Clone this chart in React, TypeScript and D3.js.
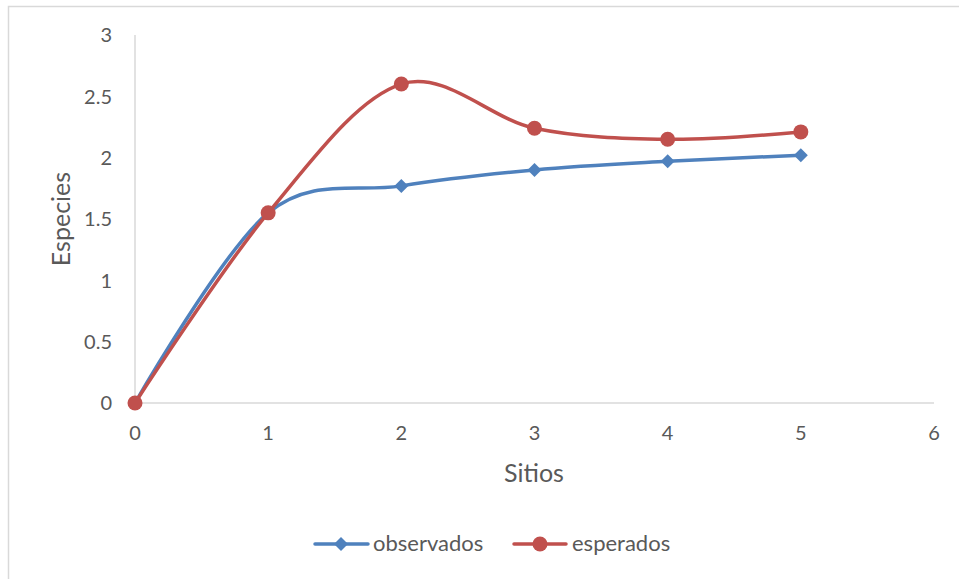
import React from "react";
import * as d3 from "d3";

// Sampling sites and cumulative species counts
const sitios = [0, 1, 2, 3, 4, 5];
const observados = [0, 1.55, 1.77, 1.9, 1.97, 2.02];
const esperados = [0, 1.55, 2.6, 2.24, 2.15, 2.21];
const xTicks = [0, 1, 2, 3, 4, 5, 6];
const yTicks = [0, 0.5, 1, 1.5, 2, 2.5, 3];

const W = 959;
const H = 579;
const FONT = "Lato, 'Open Sans', sans-serif";
const TXT = "#595959";
const BLUE = "#4f81bd";
const RED = "#c0504d";

export default function App() {
  const x = d3.scaleLinear().domain([0, 6]).range([135, 934]);
  const y = d3.scaleLinear().domain([0, 3]).range([403, 35]);

  const line = d3
    .line<number>()
    .x((_, i) => x(sitios[i]))
    .y((d) => y(d))
    .curve(d3.curveCardinal.tension(0));

  const diamond = (cx: number, cy: number, r: number) =>
    `M${cx},${cy - r}L${cx + r},${cy}L${cx},${cy + r}L${cx - r},${cy}Z`;

  return (
    <svg
      width={W}
      height={H}
      style={{ position: "absolute", left: 0, top: 0, background: "#fff" }}
    >
      <rect x={8.5} y={6.5} width={W + 10} height={H + 10} fill="#fff" stroke="#d9d9d9" strokeWidth={1.5} />

      {/* axes */}
      <line x1={x(0)} x2={x(0)} y1={y(3)} y2={y(0)} stroke="#d9d9d9" strokeWidth={1.5} />
      <line x1={x(0)} x2={x(6)} y1={y(0)} y2={y(0)} stroke="#d9d9d9" strokeWidth={1.5} />

      {yTicks.map((t) => (
        <text key={"y" + t} x={112} y={y(t)} dy="0.36em" textAnchor="end" fontFamily={FONT} fontSize={20} fill={TXT}>
          {t}
        </text>
      ))}
      {xTicks.map((t) => (
        <text key={"x" + t} x={x(t)} y={440} textAnchor="middle" fontFamily={FONT} fontSize={20} fill={TXT}>
          {t}
        </text>
      ))}

      <text x={534} y={482} textAnchor="middle" fontFamily={FONT} fontSize={25} fill={TXT}>
        Sitios
      </text>
      <text
        transform="translate(70,219) rotate(-90)"
        textAnchor="middle"
        fontFamily={FONT}
        fontSize={25}
        fill={TXT}
      >
        Especies
      </text>

      {/* series */}
      <path d={line(observados) ?? ""} fill="none" stroke={BLUE} strokeWidth={3.5} strokeLinecap="round" />
      {observados.map((v, i) => (
        <path key={"o" + i} d={diamond(x(sitios[i]), y(v), 7)} fill={BLUE} />
      ))}
      <path d={line(esperados) ?? ""} fill="none" stroke={RED} strokeWidth={3.5} strokeLinecap="round" />
      {esperados.map((v, i) => (
        <circle key={"e" + i} cx={x(sitios[i])} cy={y(v)} r={7.5} fill={RED} />
      ))}

      {/* legend */}
      <line x1={315} x2={368} y1={544} y2={544} stroke={BLUE} strokeWidth={3.5} strokeLinecap="round" />
      <path d={diamond(341, 544, 7)} fill={BLUE} />
      <text x={373} y={551} fontFamily={FONT} fontSize={22} fill={TXT}>
        observados
      </text>
      <line x1={514} x2={566} y1={544} y2={544} stroke={RED} strokeWidth={3.5} strokeLinecap="round" />
      <circle cx={540} cy={544} r={7.5} fill={RED} />
      <text x={572} y={551} fontFamily={FONT} fontSize={22} fill={TXT}>
        esperados
      </text>
    </svg>
  );
}
